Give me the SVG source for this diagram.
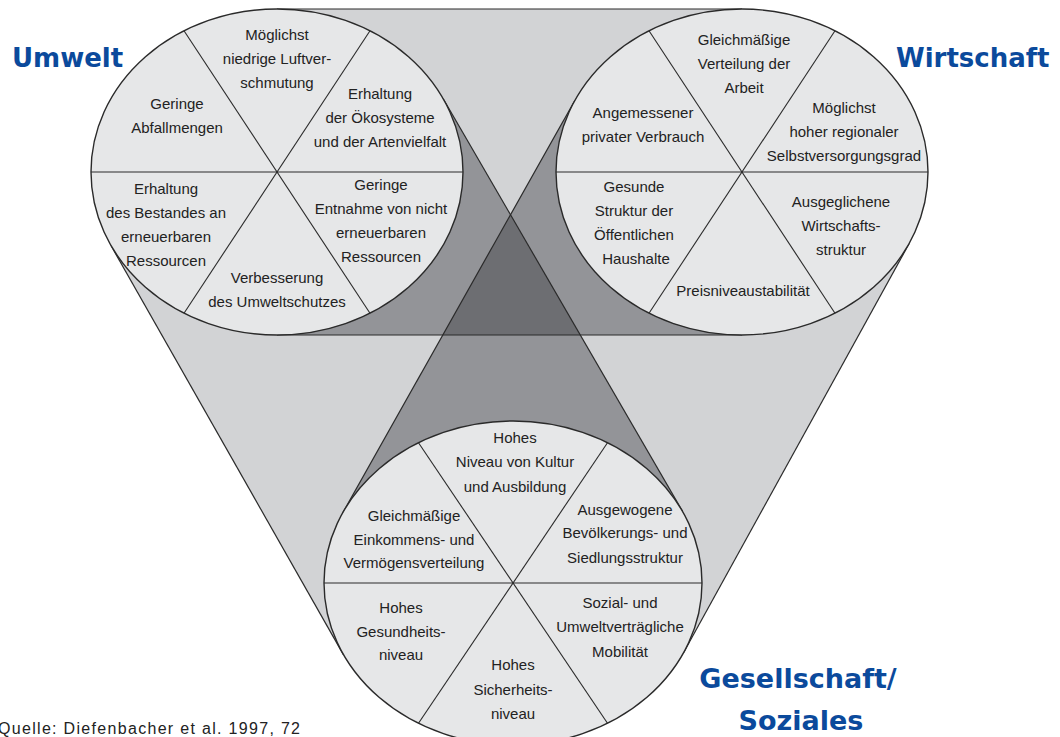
<svg xmlns="http://www.w3.org/2000/svg" width="1060" height="737" viewBox="0 0 1060 737">
<style>
.light{fill:#d2d3d5}
.mid{fill:#939498}
.dark{fill:#6d6e72}
.edge{stroke:#2a2a2a;stroke-width:1.2;fill:none}
.ell{fill:#e6e7e8;stroke:#2a2a2a;stroke-width:1.4}
.sp{stroke:#2a2a2a;stroke-width:1.1}
.t{font-family:"Liberation Sans",Arial,sans-serif;font-size:15px;fill:#222;text-anchor:middle}
.h{font-family:"DejaVu Sans",Verdana,sans-serif;font-weight:bold;font-size:26px;fill:#0b4a9c}
.src{font-family:"Liberation Sans",Arial,sans-serif;font-size:16px;fill:#222}
</style>
<defs>
<clipPath id="cT"><polygon points="277,9 742,9 742,335 277,335"/></clipPath>
<clipPath id="cL"><polygon points="443.2,98.7 682.6,511.4 343.4,654.6 110.8,245.3"/></clipPath>
</defs>
<g id="connectors">
<polygon class="light" points="277,9 742,9 742,335 277,335"/>
<polygon class="light" points="443.2,98.7 682.6,511.4 343.4,654.6 110.8,245.3"/>
<polygon class="light" points="574.8,100.5 909.2,243.5 683.5,652.8 342.5,513.2"/>
<g clip-path="url(#cT)">
<polygon class="mid" points="443.2,98.7 682.6,511.4 343.4,654.6 110.8,245.3"/>
<polygon class="mid" points="574.8,100.5 909.2,243.5 683.5,652.8 342.5,513.2"/>
</g>
<g clip-path="url(#cL)">
<polygon class="mid" points="574.8,100.5 909.2,243.5 683.5,652.8 342.5,513.2"/>
</g>
<g clip-path="url(#cT)"><g clip-path="url(#cL)">
<polygon class="dark" points="574.8,100.5 909.2,243.5 683.5,652.8 342.5,513.2"/>
</g></g>
<line class="edge" x1="277" y1="9" x2="742" y2="9"/>
<line class="edge" x1="277" y1="335" x2="742" y2="335"/>
<line class="edge" x1="443.2" y1="98.7" x2="682.6" y2="511.4"/>
<line class="edge" x1="110.8" y1="245.3" x2="343.4" y2="654.6"/>
<line class="edge" x1="574.8" y1="100.5" x2="342.5" y2="513.2"/>
<line class="edge" x1="909.2" y1="243.5" x2="683.5" y2="652.8"/>
</g>
<g id="umwelt">
<ellipse class="ell" cx="277" cy="172" rx="186" ry="163"/>
<line class="sp" x1="91" y1="172" x2="463" y2="172"/>
<line class="sp" x1="184" y1="30.8" x2="370" y2="313.2"/>
<line class="sp" x1="370" y1="30.8" x2="184" y2="313.2"/>
<text class="t" x="277" y="40">Möglichst</text>
<text class="t" x="277" y="64">niedrige Luftver-</text>
<text class="t" x="277" y="88">schmutung</text>
<text class="t" x="177" y="109">Geringe</text>
<text class="t" x="177" y="133">Abfallmengen</text>
<text class="t" x="380" y="99">Erhaltung</text>
<text class="t" x="380" y="123">der Ökosysteme</text>
<text class="t" x="380" y="147">und der Artenvielfalt</text>
<text class="t" x="166" y="194">Erhaltung</text>
<text class="t" x="166" y="218">des Bestandes an</text>
<text class="t" x="166" y="242">erneuerbaren</text>
<text class="t" x="166" y="266">Ressourcen</text>
<text class="t" x="381" y="190">Geringe</text>
<text class="t" x="381" y="214">Entnahme von nicht</text>
<text class="t" x="381" y="238">erneuerbaren</text>
<text class="t" x="381" y="262">Ressourcen</text>
<text class="t" x="277" y="283">Verbesserung</text>
<text class="t" x="277" y="307">des Umweltschutzes</text>
</g>
<g id="wirtschaft">
<ellipse class="ell" cx="742" cy="172" rx="186" ry="163"/>
<line class="sp" x1="556" y1="172" x2="928" y2="172"/>
<line class="sp" x1="649" y1="30.8" x2="835" y2="313.2"/>
<line class="sp" x1="835" y1="30.8" x2="649" y2="313.2"/>
<text class="t" x="744" y="45">Gleichmäßige</text>
<text class="t" x="744" y="69">Verteilung der</text>
<text class="t" x="744" y="93">Arbeit</text>
<text class="t" x="643" y="118">Angemessener</text>
<text class="t" x="643" y="142">privater Verbrauch</text>
<text class="t" x="844" y="113">Möglichst</text>
<text class="t" x="844" y="137">hoher regionaler</text>
<text class="t" x="844" y="161">Selbstversorgungsgrad</text>
<text class="t" x="634" y="192">Gesunde</text>
<text class="t" x="634" y="216">Struktur der</text>
<text class="t" x="634" y="240">Öffentlichen</text>
<text class="t" x="636" y="264">Haushalte</text>
<text class="t" x="841" y="207">Ausgeglichene</text>
<text class="t" x="841" y="231">Wirtschafts-</text>
<text class="t" x="841" y="255">struktur</text>
<text class="t" x="743" y="296">Preisniveaustabilität</text>
</g>
<g id="gesellschaft">
<ellipse class="ell" cx="513" cy="583" rx="189" ry="162"/>
<line class="sp" x1="324" y1="583" x2="702" y2="583"/>
<line class="sp" x1="418.5" y1="442.7" x2="607.5" y2="723.3"/>
<line class="sp" x1="607.5" y1="442.7" x2="418.5" y2="723.3"/>
<text class="t" x="515" y="443">Hohes</text>
<text class="t" x="515" y="467">Niveau von Kultur</text>
<text class="t" x="515" y="492">und Ausbildung</text>
<text class="t" x="414" y="521">Gleichmäßige</text>
<text class="t" x="414" y="545">Einkommens- und</text>
<text class="t" x="414" y="568">Vermögensverteilung</text>
<text class="t" x="625" y="515">Ausgewogene</text>
<text class="t" x="625" y="538">Bevölkerungs- und</text>
<text class="t" x="625" y="563">Siedlungsstruktur</text>
<text class="t" x="401" y="613">Hohes</text>
<text class="t" x="401" y="637">Gesundheits-</text>
<text class="t" x="401" y="660">niveau</text>
<text class="t" x="620" y="608">Sozial- und</text>
<text class="t" x="620" y="632">Umweltverträgliche</text>
<text class="t" x="620" y="657">Mobilität</text>
<text class="t" x="513" y="670">Hohes</text>
<text class="t" x="513" y="695">Sicherheits-</text>
<text class="t" x="513" y="719">niveau</text>
</g>
<g id="titles">
<text class="h" x="12" y="67">Umwelt</text>
<text class="h" x="896" y="67">Wirtschaft</text>
<text class="h" x="798" y="688" text-anchor="middle" style="font-size:27px">Gesellschaft/</text>
<text class="h" x="801" y="730" text-anchor="middle" style="font-size:27px">Soziales</text>
</g>
<text class="src" x="-2" y="734" textLength="302" lengthAdjust="spacing">Quelle: Diefenbacher et al. 1997, 72</text>
</svg>
